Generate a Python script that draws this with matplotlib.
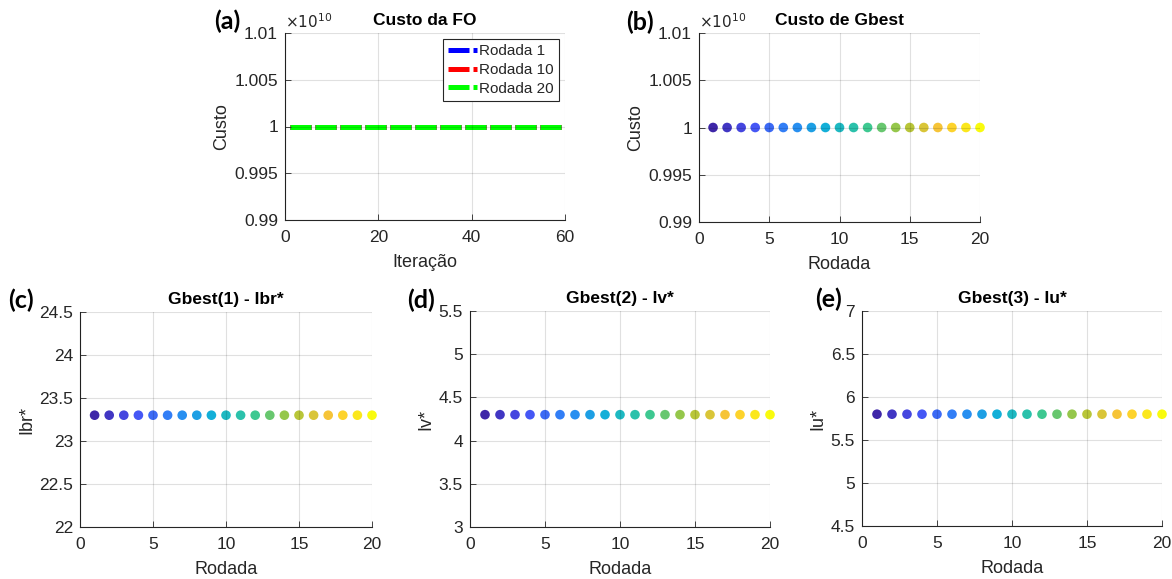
import numpy as np
import matplotlib
matplotlib.use("Agg")
import matplotlib.pyplot as plt
from matplotlib.colors import LinearSegmentedColormap
from matplotlib.ticker import FuncFormatter

# ---------------- data ----------------
iteracao = list(range(1, 61))
custo_rodada1 = [1.0e10] * 60
custo_rodada10 = [1.0e10] * 60
custo_rodada20 = [1.0e10] * 60
legend_labels = ["Rodada 1", "Rodada 10", "Rodada 20"]

rodada = list(range(1, 21))
custo_gbest = [1.0e10] * 20
ibr_star = [23.3] * 20
iv_star = [4.3] * 20
iu_star = [5.8] * 20

# ---------------- style ----------------
plt.rcParams['font.family'] = ['Liberation Sans', 'DejaVu Sans']
TXT = (0.15, 0.15, 0.15)

parula_pts = [
    (0.2422, 0.1504, 0.6603), (0.2810, 0.3228, 0.9579), (0.1786, 0.5289, 0.9682),
    (0.0689, 0.6948, 0.8394), (0.2161, 0.7843, 0.5923), (0.6720, 0.7793, 0.2227),
    (0.9970, 0.7659, 0.2199), (0.9763, 0.9831, 0.0538)]
parula = LinearSegmentedColormap.from_list("parula", parula_pts)

W, H = 1172, 579
fig = plt.figure(figsize=(W / 100, H / 100), dpi=100)


def px_axes(l, r, t, b):
    return fig.add_axes([l / W, 1 - b / H, (r - l) / W, (b - t) / H])


def style(ax):
    ax.spines['top'].set_visible(False)
    ax.spines['right'].set_visible(False)
    for s in ('left', 'bottom'):
        ax.spines[s].set_color(TXT)
        ax.spines[s].set_linewidth(0.8)
    ax.tick_params(axis='both', direction='in', length=4, colors=TXT,
                   labelsize=12.5, width=0.6)
    ax.tick_params(axis='x', pad=7.5)
    ax.tick_params(axis='y', pad=5)
    ax.set_axisbelow(False)
    ax.grid(True, color='black', alpha=0.12, linewidth=0.8)


def panel_label(txt, x, yc):
    fig.text(x / W, 1 - yc / H, txt, fontsize=18, fontweight='bold',
             family=['Lato', 'DejaVu Sans'], ha='left', va='center',
             color='black')


sci_fmt = FuncFormatter(lambda v, p: '%g' % round(v / 1e10, 6))

# (a)
axa = px_axes(285, 565, 33, 220)
style(axa)
for y, c, lab in zip([custo_rodada1, custo_rodada10, custo_rodada20],
                     ['#0000ff', '#ff0000', '#00ff00'], legend_labels):
    axa.plot(iteracao, y, color=c, linewidth=3.6, linestyle=(0, (4.2, 0.8)),
             label=lab)
axa.set_xlim(0, 60)
axa.set_ylim(0.99e10, 1.01e10)
axa.set_xticks([0, 20, 40, 60])
axa.set_yticks([0.99e10, 0.995e10, 1.0e10, 1.005e10, 1.01e10])
axa.yaxis.set_major_formatter(sci_fmt)
axa.set_xlabel('Iteração', fontsize=13, color=TXT, labelpad=6)
axa.set_ylabel('Custo', fontsize=13, color=TXT, labelpad=3)
axa.set_title('Custo da FO', fontsize=12.5, fontweight='bold', pad=6)
axa.text(0.0, 1.01, r'$\times10^{10}$', transform=axa.transAxes, fontsize=11,
         color=TXT, ha='left', va='bottom')
leg = axa.legend(loc='upper right', fontsize=11, handlelength=1.85,
                 handletextpad=0.15, borderpad=0.35, labelspacing=0.3,
                 fancybox=False, framealpha=1, borderaxespad=0.4)
leg.get_frame().set_edgecolor(TXT)
leg.get_frame().set_linewidth(0.8)
for t in leg.get_texts():
    t.set_color(TXT)
panel_label('(a)', 214, 21)


def scatter_panel(ax, y, ylim, yticks, ylabel, title, fmt=None):
    style(ax)
    ax.scatter(rodada, y, c=rodada, cmap=parula, s=48, zorder=1,
               edgecolors='none', clip_on=False)
    ax.set_xlim(0, 20)
    ax.set_ylim(*ylim)
    ax.set_xticks([0, 5, 10, 15, 20])
    ax.set_yticks(yticks)
    if fmt is not None:
        ax.yaxis.set_major_formatter(fmt)
    else:
        ax.yaxis.set_major_formatter(FuncFormatter(lambda v, p: '%g' % v))
    ax.set_xlabel('Rodada', fontsize=13, color=TXT, labelpad=6)
    ax.set_ylabel(ylabel, fontsize=13, color=TXT, labelpad=3)
    ax.set_title(title, fontsize=12.5, fontweight='bold', pad=6)


# (b)
axb = px_axes(699, 980, 33, 222)
scatter_panel(axb, custo_gbest, (0.99e10, 1.01e10),
              [0.99e10, 0.995e10, 1.0e10, 1.005e10, 1.01e10],
              'Custo', 'Custo de Gbest', fmt=sci_fmt)
axb.text(0.0, 1.01, r'$\times10^{10}$', transform=axb.transAxes, fontsize=11,
         color=TXT, ha='left', va='bottom')
panel_label('(b)', 626, 22)

# (c)
axc = px_axes(80, 372, 312, 527)
scatter_panel(axc, ibr_star, (22, 24.5), [22, 22.5, 23, 23.5, 24, 24.5],
              'Ibr*', 'Gbest(1) - Ibr*')
panel_label('(c)', 8, 300)

# (d)
axd = px_axes(470, 770, 311, 527)
scatter_panel(axd, iv_star, (3, 5.5), [3, 3.5, 4, 4.5, 5, 5.5],
              'Iv*', 'Gbest(2) - Iv*')
panel_label('(d)', 407, 300)

# (e)
axe = px_axes(862, 1162, 311, 526)
scatter_panel(axe, iu_star, (4.5, 7), [4.5, 5, 5.5, 6, 6.5, 7],
              'Iu*', 'Gbest(3) - Iu*')
panel_label('(e)', 815, 299)

fig.savefig('out.png', dpi=100)
